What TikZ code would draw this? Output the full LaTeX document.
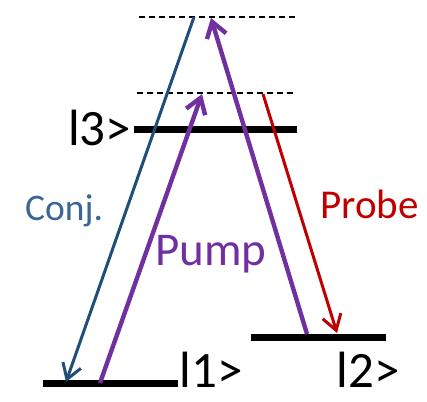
\documentclass[tikz,border=0pt]{standalone}
\usepackage{fontspec}
\setmainfont{Carlito}
\usetikzlibrary{arrows.meta}
\definecolor{pumpc}{HTML}{7030A0}
\definecolor{conjc}{HTML}{1F4E79}
\definecolor{conjt}{HTML}{3A6596}
\definecolor{probec}{HTML}{C00000}
\begin{document}
\begin{tikzpicture}[x=1pt,y=-1pt,
  level/.style={line width=7pt},
  virt/.style={line width=1.8pt,dash pattern=on 6pt off 4pt},
  pumparrow/.style={pumpc,line width=4.4pt,-{Straight Barb[length=15pt,width=20pt,line width=4.4pt]}},
  conjarrow/.style={conjc,line width=3pt,-{Straight Barb[length=15pt,width=19pt,line width=3pt]}},
  probearrow/.style={probec,line width=3pt,-{Straight Barb[length=15pt,width=19pt,line width=3pt]}},
  lab/.style={font=\fontsize{51}{51}\selectfont,inner sep=0pt,anchor=base west}]
\useasboundingbox (0,0) rectangle (427,401);
% virtual levels
\draw[virt] (139,17) coordinate (t1) -- (296,17) coordinate (t2);
\draw[virt] (137,93) coordinate (m1) -- (296,93) coordinate (m2);
% real levels
\draw[level] (134,129) coordinate (l3a) -- (297,129) coordinate (l3b);
\draw[level] (43,383) coordinate (l1a) -- (178,383) coordinate (l1b);
\draw[level] (251,337) coordinate (l2a) -- (386,337) coordinate (l2b);
% labels
\node[lab] (k3) at (68,145) {l3>};
\node[lab] (k1) at (179.5,387) {l1>};
\node[lab] (k2) at (336.5,387) {l2>};
% arrow endpoints
\coordinate (cs) at (194,17);
\coordinate (ce) at (66,382);
\coordinate (p1s) at (100,383);
\coordinate (p1e) at (202,94);
\coordinate (p2s) at (307,334);
\coordinate (p2e) at (211,18);
\coordinate (ps) at (263,94);
\coordinate (pe) at (337,333);
\draw[conjarrow] (cs) -- (ce);
\draw[pumparrow] (p1s) -- (p1e);
\draw[pumparrow] (p2s) -- (p2e);
\draw[probearrow] (ps) -- (pe);
% texts
\node[conjt,font=\fontsize{37.5}{37.5}\selectfont,anchor=base west,inner sep=0pt] (tc) at (25,220) {Conj.};
\node[probec,font=\fontsize{41}{41}\selectfont,anchor=base west,inner sep=0pt] (tp) at (320,218) {Probe};
\node[pumpc,font=\fontsize{47}{47}\selectfont,anchor=base west,inner sep=0pt] (tu) at (155,265) {Pump};
\end{tikzpicture}
\end{document}
